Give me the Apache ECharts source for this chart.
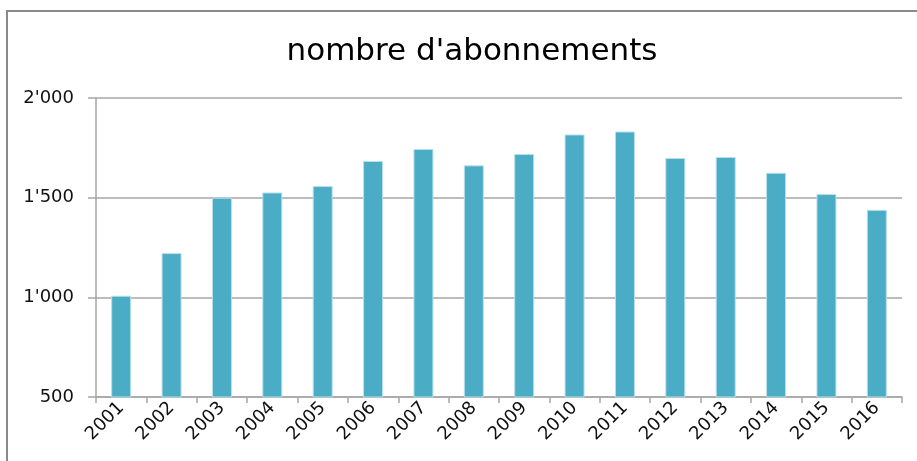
<!DOCTYPE html>
<html>
<head>
<meta charset="utf-8">
<script src="https://cdn.jsdelivr.net/npm/echarts@6/dist/echarts.min.js"></script>
<style>
  html, body { margin: 0; padding: 0; background: #fff; }
  #chart { width: 917px; height: 461px; }
</style>
</head>
<body>
<div id="chart"></div>
<script>
// data
const years = ['2001', '2002', '2003', '2004', '2005', '2006', '2007', '2008',
  '2009', '2010', '2011', '2012', '2013', '2014', '2015', '2016'];
const abonnements = [1008, 1222, 1500, 1526, 1558, 1684, 1744, 1662,
  1719, 1817, 1832, 1699, 1704, 1625, 1518, 1439];
const yTicks = { min: 500, max: 2000, step: 500 };
const titleText = "nombre d'abonnements";

const FONT = '"DejaVu Sans", Verdana, sans-serif';

const fmtThousands = (v) => {
  const s = String(Math.round(v));
  return s.replace(/\B(?=(\d{3})+(?!\d))/g, "'");
};

const chart = echarts.init(document.getElementById('chart'));

chart.setOption({
  animation: false,
  backgroundColor: '#fff',
  textStyle: { fontFamily: FONT },
  title: {
    text: titleText,
    left: 467,
    top: 31,
    textAlign: 'center',
    textStyle: { fontSize: 31, fontWeight: 'normal', color: '#000', fontFamily: FONT },
  },
  graphic: [{
    type: 'rect',
    shape: { x: 7, y: 11, width: 1000, height: 500 },
    style: { fill: 'none', stroke: '#8a8a8a', lineWidth: 2 },
    silent: true,
  }],
  grid: { left: 96, right: 15, top: 98, bottom: 64, containLabel: false },
  xAxis: {
    type: 'category',
    data: years,
    boundaryGap: true,
    axisLine: { lineStyle: { color: '#a6a6a6', width: 1.5 } },
    axisTick: { show: true, length: 6, alignWithLabel: false, lineStyle: { color: '#a6a6a6', width: 1.5 } },
    axisLabel: {
      rotate: 45,
      interval: 0,
      fontSize: 18,
      color: '#111',
      margin: 8,
      fontFamily: FONT,
    },
  },
  yAxis: {
    type: 'value',
    min: yTicks.min,
    max: yTicks.max,
    interval: yTicks.step,
    axisLine: { show: true, lineStyle: { color: '#a6a6a6', width: 1.5 } },
    axisTick: { show: true, length: 8, lineStyle: { color: '#a6a6a6', width: 1.5 } },
    splitLine: { lineStyle: { color: '#a6a6a6', width: 1.5 } },
    axisLabel: {
      fontSize: 18,
      color: '#111',
      margin: 22,
      fontFamily: FONT,
      formatter: fmtThousands,
    },
  },
  series: [{
    type: 'bar',
    data: abonnements,
    barWidth: 20,
    itemStyle: { color: '#4aacc5', borderColor: '#b8e0ea', borderWidth: 1 },
  }],
});
</script>
</body>
</html>
